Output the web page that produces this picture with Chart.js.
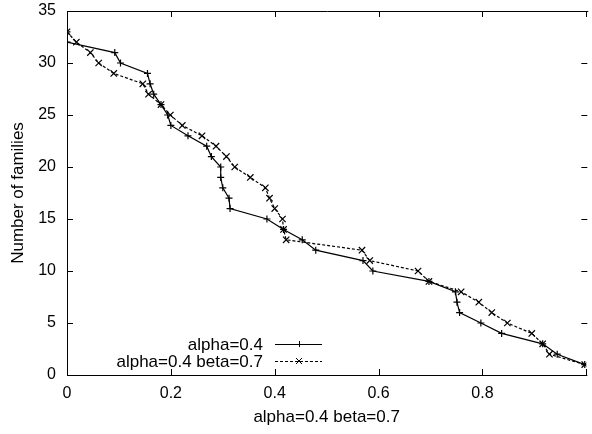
<!DOCTYPE html>
<html>
<head>
<meta charset="utf-8">
<script src="https://cdn.jsdelivr.net/npm/chart.js@4/dist/chart.umd.min.js"></script>
<style>
  html, body { margin: 0; padding: 0; background: #fff; }
  #wrap { width: 592px; height: 434px; }
</style>
</head>
<body>
<div id="wrap"><canvas id="familiesChart" width="592" height="434"></canvas></div>
<script>
// number of families (y) reached at each threshold (x)
const families = [33, 32, 31, 30, 29, 28, 27, 26, 25, 24, 23, 22, 21, 20, 19, 18, 17,
                  16, 15, 14, 13, 12, 11, 10, 9, 8, 7, 6, 5, 4, 3, 2, 1];
const alphaOnly = [0, 0, 0.092, 0.103, 0.155, 0.160, 0.167, 0.181, 0.194, 0.200, 0.233,
                   0.269, 0.278, 0.296, 0.296, 0.300, 0.312, 0.314, 0.385, 0.417, 0.453,
                   0.479, 0.570, 0.589, 0.697, 0.748, 0.751, 0.756, 0.797, 0.837, 0.916,
                   0.944, 0.997];
const alphaBeta = [0, 0.018, 0.045, 0.061, 0.090, 0.146, 0.157, 0.181, 0.199, 0.222, 0.260,
                   0.287, 0.307, 0.323, 0.353, 0.382, 0.390, 0.400, 0.415, 0.417, 0.422,
                   0.568, 0.583, 0.676, 0.697, 0.759, 0.793, 0.818, 0.848, 0.895, 0.916,
                   0.929, 0.997];
const seriesLabels = ['alpha=0.4', 'alpha=0.4 beta=0.7'];
const xTicks = [0, 0.2, 0.4, 0.6, 0.8, 1];
const yTicks = [0, 5, 10, 15, 20, 25, 30, 35];

const FONT = 'Liberation Sans, Arial, Helvetica, sans-serif';
const toPoints = xs => xs.map((x, i) => ({ x: x, y: families[i] }));

// gnuplot-like frame: top border plus inward ticks on all sides
const framePlugin = {
  id: 'frame',
  afterDraw(chart) {
    const { ctx, chartArea: a, scales } = chart;
    ctx.save();
    ctx.strokeStyle = '#000';
    ctx.lineWidth = 1;
    ctx.beginPath();
    ctx.moveTo(a.left, a.top + 0.5);
    ctx.lineTo(a.right + 2, a.top + 0.5);
    xTicks.forEach(v => {
      const px = Math.round(scales.x.getPixelForValue(v)) + 0.5;
      ctx.moveTo(px, a.bottom); ctx.lineTo(px, a.bottom - 6);
      ctx.moveTo(px, a.top); ctx.lineTo(px, a.top + 6);
    });
    yTicks.forEach(v => {
      const py = Math.round(scales.y.getPixelForValue(v)) + 0.5;
      ctx.moveTo(a.left, py); ctx.lineTo(a.left + 6, py);
      ctx.moveTo(a.right + 1, py); ctx.lineTo(a.right - 5, py);
    });
    ctx.stroke();
    ctx.restore();
  }
};

// legend at lower left: right-aligned text followed by a line sample
const keyPlugin = {
  id: 'key',
  afterDraw(chart) {
    const ctx = chart.ctx;
    ctx.save();
    ctx.font = '17px ' + FONT;
    ctx.fillStyle = '#000';
    ctx.textAlign = 'right';
    ctx.textBaseline = 'middle';
    chart.data.datasets.forEach((ds, i) => {
      const y = 344 + i * 17;
      ctx.fillText(ds.label, 263, y + 1);
      ctx.strokeStyle = '#000';
      ctx.lineWidth = 1;
      ctx.setLineDash(ds.borderDash || []);
      ctx.beginPath();
      ctx.moveTo(275, y + 0.5); ctx.lineTo(322, y + 0.5);
      ctx.stroke();
      ctx.setLineDash([]);
      ctx.beginPath();
      const r = 3;
      if (ds.pointStyle === 'cross') {
        ctx.moveTo(299 - r, y + 0.5); ctx.lineTo(299 + r, y + 0.5);
        ctx.moveTo(299.5, y - r); ctx.lineTo(299.5, y + r);
      } else {
        ctx.moveTo(299 - r, y - r); ctx.lineTo(299 + r, y + r);
        ctx.moveTo(299 - r, y + r); ctx.lineTo(299 + r, y - r);
      }
      ctx.stroke();
    });
    ctx.restore();
  }
};

new Chart(document.getElementById('familiesChart'), {
  type: 'scatter',
  data: {
    datasets: [{
      label: seriesLabels[0],
      data: toPoints(alphaOnly),
      showLine: true,
      borderColor: '#000',
      borderWidth: 1.2,
      pointStyle: 'cross',
      pointRadius: 3.5,
      pointBorderColor: '#000',
      pointBorderWidth: 1.2
    }, {
      label: seriesLabels[1],
      data: toPoints(alphaBeta),
      showLine: true,
      borderColor: '#000',
      borderWidth: 1.2,
      borderDash: [3, 2],
      pointStyle: 'crossRot',
      pointRadius: 4.5,
      pointBorderColor: '#000',
      pointBorderWidth: 1.2
    }]
  },
  options: {
    responsive: false,
    animation: false,
    layout: { padding: { top: 11, right: 1, left: 0, bottom: 0 } },
    plugins: {
      legend: { display: false },
      tooltip: { enabled: false }
    },
    scales: {
      x: {
        type: 'linear',
        min: 0,
        max: 1,
        afterBuildTicks: s => { s.ticks = xTicks.map(v => ({ value: v })); },
        afterFit: s => { s.height = 59; s.paddingRight = 0; s.paddingLeft = 0; },
        grid: { display: true, drawOnChartArea: false, drawTicks: false },
        border: { display: true, color: '#000', width: 1 },
        ticks: {
          color: '#000',
          padding: 9,
          maxRotation: 0,
          autoSkip: false,
          font: { family: FONT, size: 16 },
          callback: v => (v === 1 ? '' : String(v))
        },
        title: {
          display: true,
          text: 'alpha=0.4 beta=0.7',
          color: '#000',
          font: { family: FONT, size: 17 },
          padding: { top: 0, bottom: 6 }
        }
      },
      y: {
        type: 'linear',
        min: 0,
        max: 35,
        afterBuildTicks: s => { s.ticks = yTicks.map(v => ({ value: v })); },
        afterFit: s => { s.width = 67; s.paddingTop = 0; s.paddingBottom = 0; },
        grid: { display: true, drawOnChartArea: false, drawTicks: false },
        border: { display: true, color: '#000', width: 1 },
        ticks: {
          color: '#000',
          padding: 11,
          autoSkip: false,
          font: { family: FONT, size: 16 }
        },
        title: {
          display: true,
          text: 'Number of families',
          color: '#000',
          font: { family: FONT, size: 17 },
          padding: { top: 8, bottom: 0 }
        }
      }
    }
  },
  plugins: [framePlugin, keyPlugin]
});
</script>
</body>
</html>
